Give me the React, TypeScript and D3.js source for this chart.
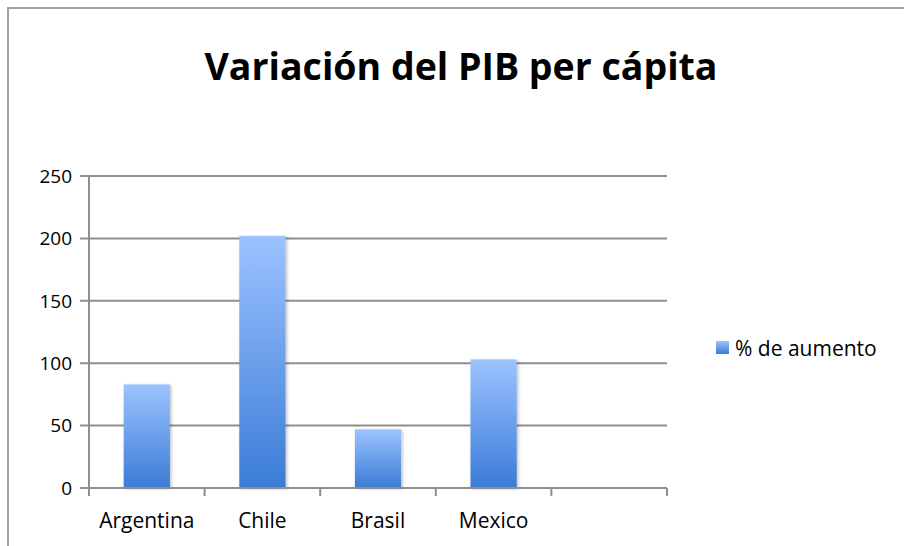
import React from "react";
import * as d3 from "d3";

const categories = ["Argentina", "Chile", "Brasil", "Mexico", ""];
const values = [83, 202, 47, 103];
const yTicks = [0, 50, 100, 150, 200, 250];
const title = "Variación del PIB per cápita";
const seriesName = "% de aumento";

const W = 904;
const H = 546;
const left = 89;
const right = 667;
const top = 176;
const bottom = 488;

export default function App() {
  const x = d3
    .scaleBand<string>()
    .domain(categories.map((c, i) => String(i)))
    .range([left, right])
    .paddingInner(0.6)
    .paddingOuter(0.3);
  const step = (right - left) / categories.length;
  const y = d3.scaleLinear().domain([0, 250]).range([bottom, top]);
  const font = "'Open Sans', 'Liberation Sans', sans-serif";
  const grid = "#8e8e8e";

  return (
    <svg
      width={W}
      height={H}
      style={{ position: "absolute", left: 0, top: 0, background: "#fff" }}
      fontFamily={font}
    >
      <defs>
        <linearGradient id="barGrad" x1="0" y1="0" x2="0" y2="1">
          <stop offset="0%" stopColor="#9cc3ff" />
          <stop offset="100%" stopColor="#3a7bd6" />
        </linearGradient>
        <filter id="shadow" x="-20%" y="-5%" width="140%" height="110%">
          <feDropShadow dx="1.5" dy="1" stdDeviation="1.5" floodColor="#000" floodOpacity="0.25" />
        </filter>
      </defs>
      <rect x={8} y={8} width={W + 20} height={H + 20} fill="#fff" stroke="#a3a3a3" strokeWidth={2} />
      <text
        x={461}
        y={80}
        textAnchor="middle"
        fontSize={37}
        fontWeight="bold"
        fill="#000"
        textLength={513}
        lengthAdjust="spacingAndGlyphs"
      >
        {title}
      </text>

      {yTicks.map((t) => (
        <g key={t}>
          <line x1={left - 9} x2={right} y1={y(t)} y2={y(t)} stroke={grid} strokeWidth={2} />
          <text x={72} y={y(t)} dy="0.36em" textAnchor="end" fontSize={19} fill="#000">
            {t}
          </text>
        </g>
      ))}
      <line x1={left} x2={left} y1={top} y2={bottom + 8} stroke={grid} strokeWidth={2} />
      {categories.map((c, i) => (
        <line
          key={"tk" + i}
          x1={left + step * (i + 1)}
          x2={left + step * (i + 1)}
          y1={bottom}
          y2={bottom + 8}
          stroke={grid}
          strokeWidth={2}
        />
      ))}

      {values.map((v, i) => (
        <rect
          key={"b" + i}
          x={x(String(i))}
          y={y(v)}
          width={x.bandwidth()}
          height={y(0) - y(v)}
          fill="url(#barGrad)"
          filter="url(#shadow)"
        />
      ))}
      <line x1={left - 9} x2={right} y1={y(0)} y2={y(0)} stroke={grid} strokeWidth={2} />

      {categories.map((c, i) => (
        <text
          key={"c" + i}
          x={(x(String(i)) as number) + x.bandwidth() / 2}
          y={528}
          textAnchor="middle"
          fontSize={21}
          fill="#000"
        >
          {c}
        </text>
      ))}

      <rect x={716} y={341} width={13} height={13} fill="url(#barGrad)" />
      <text x={735} y={356} fontSize={21} fill="#000">
        {seriesName}
      </text>
    </svg>
  );
}
